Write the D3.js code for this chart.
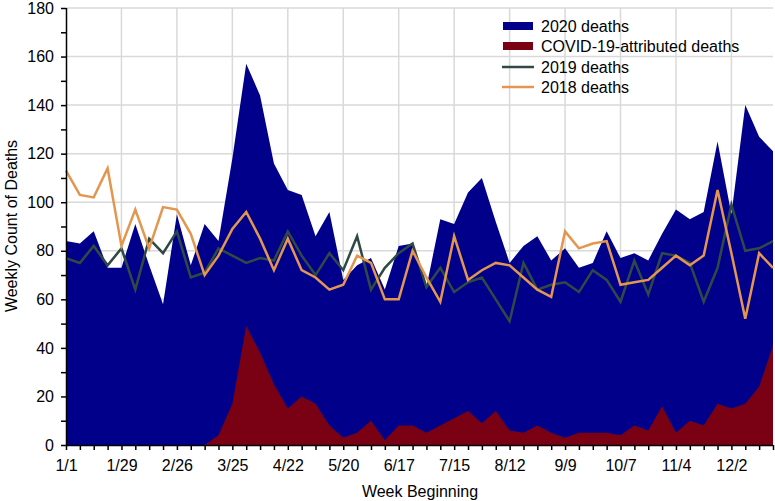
<!DOCTYPE html>
<html>
<head>
<meta charset="utf-8">
<script src="https://cdn.jsdelivr.net/npm/d3@7"></script>
<style>
  html, body { margin: 0; padding: 0; background: #fff; }
  svg { display: block; font-family: "Liberation Sans", Arial, Helvetica, sans-serif; }
</style>
</head>
<body>
<svg id="chart" width="775" height="501"></svg>
<script>
// Week index 0..51 (weekly from 1/1)
const weeks = d3.range(52);
const tickWeeks = [0, 4, 8, 12, 16, 20, 24, 28, 32, 36, 40, 44, 48];
const tickLabels = ["1/1", "1/29", "2/26", "3/25", "4/22", "5/20", "6/17", "7/15", "8/12", "9/9", "10/7", "11/4", "12/2"];

const deaths2020 = [84, 83, 88, 73, 73, 91, 74, 58, 95, 74, 91, 84, 118, 157, 144, 116, 105, 103, 86, 96, 68, 74, 77, 64, 82, 83,
                    65, 93, 91, 104, 110, 92, 75, 82, 86, 76, 81, 73, 75, 88, 77, 79, 76, 87, 97, 93, 96, 125, 95, 140, 127, 121];
const covid2020 = [0, 0, 0, 0, 0, 0, 0, 0, 0, 0, 0, 4, 17, 49, 38, 25, 15, 20, 17, 8, 3, 5, 10, 2, 8, 8,
                   5, 8, 11, 14, 9, 14, 6, 5, 8, 5, 3, 5, 5, 5, 4, 8, 6, 16, 5, 10, 8, 17, 15, 17, 24, 41];
const deaths2019 = [77, 75, 82, 74, 81, 64, 85, 79, 88, 69, 71, 81, 78, 75, 77, 76, 88, 78, 70, 79, 72, 86, 64, 73, 79, 83,
                    65, 73, 63, 67, 69, 60, 51, 75, 64, 66, 67, 63, 72, 68, 59, 76, 62, 79, 78, 75, 59, 73, 99, 80, 81, 84];
const deaths2018 = [113, 103, 102, 114, 82, 97, 81, 98, 97, 87, 70, 78, 89, 96, 85, 72, 85, 72, 69, 64, 66, 78, 75, 60, 60, 80,
                    69, 59, 86, 68, 72, 75, 74, 69, 64, 61, 88, 81, 83, 84, 66, 67, 68, 73, 78, 74, 78, 105, 79, 52, 79, 73];

const seriesNames = ["2020 deaths", "COVID-19-attributed deaths", "2019 deaths", "2018 deaths"];
const colors = { d2020: "#00008b", covid: "#7a0013", d2019: "#2f4a44", d2018: "#e3964f" };
const FS = "16px";

const svg = d3.select("#chart");
const x = d3.scaleLinear().domain([0, 51]).range([66, 773]);
const y = d3.scaleLinear().domain([0, 180]).range([445, 8]);

// Gridlines
const grid = svg.append("g").attr("stroke", "#d9d9d9").attr("stroke-width", 1.5);
d3.range(20, 181, 20).forEach(v => {
  grid.append("line").attr("x1", x(0)).attr("x2", x(51)).attr("y1", y(v)).attr("y2", y(v));
});
tickWeeks.slice(1).forEach(w => {
  grid.append("line").attr("x1", x(w)).attr("x2", x(w)).attr("y1", y(0)).attr("y2", y(180));
});

// Areas
const area = vals => d3.area().x((d, i) => x(i)).y0(y(0)).y1(d => y(d))(vals);
svg.append("path").attr("d", area(deaths2020)).attr("fill", colors.d2020);
svg.append("path").attr("d", area(covid2020)).attr("fill", colors.covid);

// Lines
const line = vals => d3.line().x((d, i) => x(i)).y(d => y(d))(vals);
svg.append("path").attr("d", line(deaths2019)).attr("fill", "none").attr("stroke", colors.d2019)
  .attr("stroke-width", 2.5).attr("stroke-linejoin", "miter");
svg.append("path").attr("d", line(deaths2018)).attr("fill", "none").attr("stroke", colors.d2018)
  .attr("stroke-width", 2.5).attr("stroke-linejoin", "miter");

// Axes
const yAxis = d3.axisLeft(y).tickValues(d3.range(0, 181, 10))
  .tickFormat(d => d % 20 === 0 ? d : "").tickSize(5).tickPadding(7);
const gy = svg.append("g").attr("transform", `translate(${x(0)},0)`).call(yAxis);
const xAxis = d3.axisBottom(x).tickValues(weeks)
  .tickFormat(d => { const k = tickWeeks.indexOf(d); return k >= 0 ? tickLabels[k] : ""; })
  .tickSize(5).tickPadding(10);
const gx = svg.append("g").attr("transform", `translate(0,${y(0)})`).call(xAxis);
[gx, gy].forEach(g => {
  g.select(".domain").attr("stroke", "#000").attr("stroke-width", 1.5);
  g.selectAll(".tick line").attr("stroke", "#000").attr("stroke-width", 1.5);
  g.selectAll(".tick text").attr("fill", "#000").style("font-size", FS)
    .style("font-family", "'Liberation Sans', Arial, sans-serif");
});
gx.select(".domain").attr("d", `M${x(0)},0.5H${x(51)}`);
gy.select(".domain").attr("d", `M0.5,${y(180)}V${y(0)}`);

// Axis titles
svg.append("text").attr("x", 420).attr("y", 497).attr("text-anchor", "middle")
  .style("font-size", FS).text("Week Beginning");
svg.append("text").attr("transform", "translate(17,226) rotate(-90)").attr("text-anchor", "middle")
  .style("font-size", FS).text("Weekly Count of Deaths");

// Legend
const lg = svg.append("g");
const rowsY = [26, 46, 67, 87];
lg.append("rect").attr("x", 503).attr("y", rowsY[0] - 4).attr("width", 30).attr("height", 8).attr("fill", colors.d2020);
lg.append("rect").attr("x", 503).attr("y", rowsY[1] - 4).attr("width", 30).attr("height", 8).attr("fill", colors.covid);
lg.append("line").attr("x1", 502).attr("x2", 534).attr("y1", rowsY[2]).attr("y2", rowsY[2])
  .attr("stroke", colors.d2019).attr("stroke-width", 2.5);
lg.append("line").attr("x1", 502).attr("x2", 534).attr("y1", rowsY[3]).attr("y2", rowsY[3])
  .attr("stroke", colors.d2018).attr("stroke-width", 2.5);
seriesNames.forEach((n, i) => {
  lg.append("text").attr("x", 541).attr("y", rowsY[i]).attr("dy", "0.36em")
    .style("font-size", FS).attr("fill", "#000").text(n);
});
</script>
</body>
</html>
